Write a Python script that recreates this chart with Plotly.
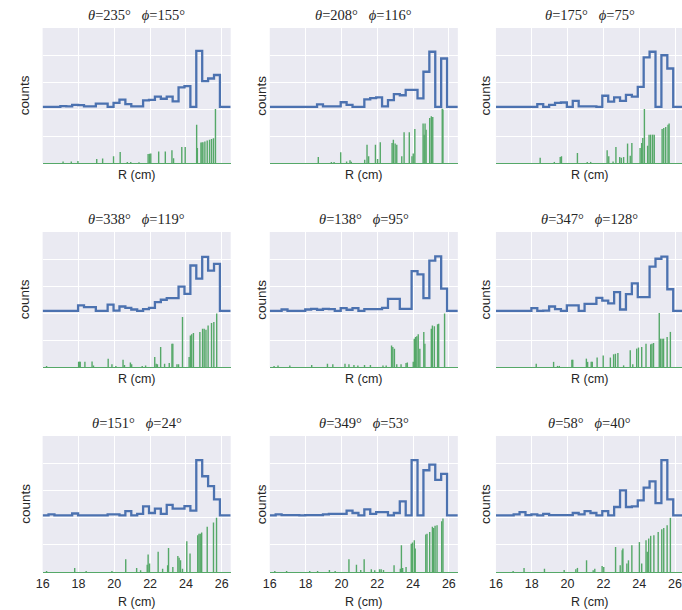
import numpy as np
import plotly.graph_objects as go

W, H = 682, 610

# ---------------- data ----------------
thetas = [235, 208, 175, 338, 138, 347, 151, 349, 58]
phis = [155, 116, 75, 119, 95, 128, 24, 53, 40]

bin_lo, bin_hi, n_bins = 16.0, 25.9, 30
x_tick_vals = [16, 18, 20, 22, 24, 26]
x_tick_text = ["16", "18", "20", "22", "24", "26"]

hist1 = [0, 0, 0, 0.03, 0.02, 0.07, 0.06, 0.02, 0.02, 0.12, 0.12, 0, 0.15, 0.27, 0.1, 0.02, 0.02, 0.24, 0.26, 0.38, 0.3, 0.38, 0.2, 0.72, 0.77, 0, 2.07, 0.95, 1.05, 1.18]
hist2 = [0, 0, 0, 0, 0, 0, 0, 0, 0.09, 0.02, 0.02, 0.02, 0.17, 0.07, 0, 0, 0.28, 0.32, 0.35, 0.02, 0.25, 0.47, 0.43, 0.63, 0.63, 0.31, 1.30, 2.04, 0, 1.79]
hist3 = [0, 0, 0, 0, 0, 0, 0, 0.1, 0, 0.07, 0.15, 0.16, 0, 0.22, 0.02, 0.02, 0.02, 0, 0.41, 0.19, 0.35, 0.22, 0.44, 0.38, 0.74, 1.83, 2.04, 0, 1.91, 1.42]
hist4 = [0, 0, 0, 0, 0, 0, 0.2, 0.14, 0.14, 0, 0, 0.23, 0.01, 0.16, 0.11, 0.05, 0, 0.06, 0.11, 0.32, 0.41, 0.47, 0.47, 0.9, 0.63, 1.68, 1.19, 2.0, 1.49, 1.74]
hist5 = [0, 0, 0.05, 0, 0, 0, 0.05, 0.07, 0.04, 0.07, 0.06, 0, 0.1, 0.04, 0.1, 0, 0.06, 0.06, 0.06, 0.11, 0.44, 0.44, 0.07, 0.07, 1.47, 1.35, 0.47, 1.86, 2.02, 0.82]
hist6 = [0, 0, 0, 0, 0, 0, 0.1, 0, 0.01, 0.16, 0.06, 0, 0.2, 0.2, 0, 0.26, 0.26, 0.48, 0.38, 0.28, 0.69, 0.05, 0.62, 1.02, 0.51, 0.51, 1.64, 1.93, 2.01, 0.8]
hist7 = [0, 0.04, 0, 0, 0, 0.07, 0, 0, 0, 0, 0, 0.04, 0.04, 0, 0.16, 0, 0.06, 0.33, 0.09, 0.25, 0.06, 0.39, 0.25, 0.25, 0.34, 0.18, 2.03, 1.44, 1.08, 0.59]
hist8 = [0, 0.04, 0.01, 0.01, 0.01, 0, 0.01, 0.01, 0.01, 0.04, 0.06, 0.06, 0.06, 0.18, 0.09, 0, 0.22, 0.06, 0.12, 0.12, 0, 0.09, 0.52, 0, 2.03, 0, 1.66, 1.87, 1.31, 1.53]
hist9 = [0, 0, 0, 0.04, 0.12, 0.01, 0.04, 0, 0.06, 0.01, 0.01, 0.01, 0.01, 0.09, 0.04, 0.16, 0.09, 0, 0.16, 0, 0.31, 0.92, 0.31, 0.33, 0.55, 1.02, 1.25, 0.45, 2.03, 0.59]

stem_r1 = [17.14, 17.6, 17.97, 19.02, 19.35, 19.96, 20.33, 20.73, 20.92, 21.38, 21.89, 21.97, 22.04, 22.48, 22.85, 23.22, 23.31, 23.77, 23.96, 24.6, 24.64, 24.84, 24.9, 24.95, 25.06, 25.19, 25.32, 25.43, 25.54, 25.65]
stem_h1 = [.06, .06, .07, .15, .17, .25, .41, .04, .04, .03, .33, .34, .35, .43, .43, .47, .18, .59, .59, 1.42, .56, .76, .76, .77, .8, .83, .86, .89, .92, 2.0]

stem_r2 = [18.71, 19.44, 19.59, 19.96, 20.29, 20.48, 20.55, 21.3, 21.43, 21.52, 21.9, 22.02, 22.17, 22.83, 22.9, 23.0, 23.09, 23.37, 23.5, 23.79, 23.94, 24.01, 24.1, 24.56, 24.62, 24.67, 24.73, 24.93, 25.02, 25.1, 25.63, 25.67]
stem_h2 = [.22, .04, .04, .40, .06, .1, .05, .12, .68, .25, .68, .15, .77, .74, .86, .72, .68, .25, 1.14, 1.14, .25, .35, 1.26, 1.46, 1.05, 1.46, 1.23, 1.67, 1.73, 1.70, 2.01, 1.98]

stem_r3 = [18.47, 19.26, 19.59, 19.66, 20.55, 21.1, 21.29, 22.21, 22.3, 22.54, 22.7, 22.91, 23.0, 23.13, 23.35, 23.5, 23.59, 24.05, 24.14, 24.2, 24.29, 24.47, 24.55, 24.64, 24.75, 24.84, 25.28, 25.37, 25.48, 25.61, 25.67]
stem_h3 = [.19, .04, .22, .25, .37, .04, .04, .47, .25, .06, .59, .22, .19, .22, .72, .27, .74, .56, .74, .93, 2.0, .64, 1.05, 1.05, 1.05, 1.05, 1.26, 1.3, 1.33, 1.42, 1.46]

stem_r4 = [16.22, 18.01, 18.06, 18.1, 18.36, 18.76, 18.84, 19.66, 19.87, 20.09, 20.49, 20.57, 20.9, 20.97, 21.56, 21.75, 22.26, 22.34, 22.41, 22.59, 22.81, 23.07, 23.22, 23.27, 23.5, 23.59, 23.81, 24.18, 24.25, 24.32, 24.42, 24.78, 24.93, 25.02, 25.12, 25.24, 25.43, 25.56, 25.72]
stem_h4 = [.04, .19, .19, .19, .19, .2, .06, .31, .1, .04, .27, .07, .17, .1, .04, .06, .37, .12, .1, .74, .12, .15, .86, .86, .1, .1, 1.85, .37, 1.17, 1.21, 1.26, 1.3, 1.42, 1.42, 1.38, 1.54, 1.63, 1.67, 1.98]

stem_r5 = [16.24, 16.46, 17.12, 18.34, 19.22, 19.52, 20.2, 20.42, 20.7, 20.92, 21.29, 21.62, 22.32, 22.5, 22.8, 22.87, 22.96, 23.09, 23.33, 23.61, 23.68, 24.01, 24.07, 24.14, 24.21, 24.29, 24.38, 24.6, 24.66, 25.02, 25.08, 25.19, 25.37, 25.43, 25.76]
stem_h5 = [.04, .06, .06, .07, .12, .1, .12, .1, .07, .06, .07, .07, .06, .06, .8, .74, .68, .1, .1, .15, .17, .19, 1.05, 1.11, 1.14, 1.21, .68, 1.3, .86, 1.42, 1.54, 1.51, 1.58, 1.6, 1.98]

stem_r6 = [18.25, 19.22, 19.44, 19.54, 20.24, 20.29, 21.05, 21.12, 21.32, 21.38, 21.65, 21.99, 22.39, 22.57, 22.67, 22.81, 23.13, 23.5, 23.64, 23.86, 23.96, 24.14, 24.38, 24.64, 24.71, 24.8, 25.12, 25.19, 25.28, 25.36, 25.56, 25.74]
stem_h6 = [.12, .19, .04, .04, .27, .27, .31, .19, .19, .19, .35, .43, .35, .47, .49, .52, .06, .62, .1, .68, .72, .74, .86, .84, .86, .89, 2.0, 1.05, 1.05, 1.05, 1.11, 1.3]

stem_r7 = [16.22, 17.79, 18.43, 19.87, 20.64, 21.25, 21.47, 21.84, 21.89, 21.97, 22.45, 22.7, 22.98, 23.03, 23.27, 23.55, 23.62, 23.7, 23.81, 24.05, 24.23, 24.66, 24.73, 24.8, 24.88, 25.19, 25.54, 25.71]
stem_h7 = [.04, .15, .04, .04, .47, .15, .06, .27, .64, .31, .74, .12, .25, .88, .18, .59, .52, .43, .12, 1.13, .68, 1.35, 1.41, 1.41, 1.45, 1.66, 1.82, 1.99]

stem_r8 = [16.28, 16.94, 18.23, 18.67, 19.33, 19.65, 20.42, 20.84, 21.08, 21.27, 21.67, 21.86, 22.13, 22.22, 22.35, 22.94, 23.29, 23.35, 23.42, 23.61, 23.9, 23.97, 24.07, 24.12, 24.71, 24.78, 24.93, 25.08, 25.15, 25.23, 25.34, 25.6, 25.67]
stem_h8 = [.04, .04, .04, .04, .07, .04, .47, .27, .07, .47, .1, .06, .1, .1, .07, .25, .12, .98, .15, .18, 1.04, 1.08, 1.17, .86, 1.38, 1.41, 1.47, 1.66, 1.62, 1.7, 1.72, 1.87, 1.97]

stem_r9 = [16.96, 17.57, 18.71, 19.81, 20.46, 20.55, 21.06, 21.43, 21.52, 21.93, 22.02, 22.68, 22.94, 23.05, 23.09, 23.31, 23.4, 23.59, 24.01, 24.14, 24.38, 24.45, 24.53, 24.64, 24.82, 25.06, 25.26, 25.37, 25.56, 25.74]
stem_h9 = [.04, .15, .12, .07, .1, .15, .43, .06, .12, .22, .18, .92, .25, .8, .86, .31, .43, .98, 1.1, .31, 1.17, .74, 1.23, 1.33, 1.35, 1.47, 1.57, 1.62, 1.72, 1.99]

hists = [hist1, hist2, hist3, hist4, hist5, hist6, hist7, hist8, hist9]
stems_r = [stem_r1, stem_r2, stem_r3, stem_r4, stem_r5, stem_r6, stem_r7, stem_r8, stem_r9]
stems_h = [stem_h1, stem_h2, stem_h3, stem_h4, stem_h5, stem_h6, stem_h7, stem_h8, stem_h9]

# ---------------- style / layout ----------------
BASE = 2.08          # vertical offset of the histogram
X_MAX = 26.5
Y_RANGE = [0, 5]
BLUE = "#4C72B0"
GREEN = "#55A868"
BG = "#EAEAF2"
SANS = "Liberation Sans, Arial, sans-serif"
SERIF = "Liberation Serif, Times New Roman, serif"
TXT = "#262626"

col_px = [(36, 226), (265.5, 455.5), (494, 684)]       # plot left/right in pixels
row_px = [(28, 163), (232, 367), (436, 572)]           # plot top/bottom in pixels
counts_x = [18, 257, 483]

edges = np.linspace(bin_lo, bin_hi, n_bins + 1)

fig = go.Figure()
layout = dict(
    width=W, height=H, margin=dict(l=0, r=0, t=0, b=0),
    paper_bgcolor="white", plot_bgcolor=BG, showlegend=False,
)
annotations = []

def px_x(x):
    return x / W

def px_y(y):
    return 1 - y / H

for k in range(9):
    r, c = divmod(k, 3)
    idx = "" if k == 0 else str(k + 1)
    xa, ya = "x" + idx, "y" + idx
    x0, x1 = col_px[c]
    y0, y1 = row_px[r]
    dom_x1 = min(x1, W)
    xr_max = 16 + (X_MAX - 16) * (dom_x1 - x0) / (x1 - x0)

    layout["xaxis" + idx] = dict(
        domain=[px_x(x0), px_x(dom_x1)], anchor=ya, range=[16, xr_max],
        tickmode="array", tickvals=x_tick_vals, ticktext=x_tick_text,
        showticklabels=(r == 2), ticks="", ticklabeloverflow="allow",
        gridcolor="white", gridwidth=1, zeroline=False,
        showline=True, linecolor=GREEN, linewidth=1, mirror=False,
        tickfont=dict(family=SANS, size=12.5, color=TXT),
    )
    layout["yaxis" + idx] = dict(
        domain=[px_y(y1), px_y(y0)], anchor=xa, range=Y_RANGE, dtick=1,
        showticklabels=False, ticks="", gridcolor="white", gridwidth=1,
        zeroline=False, showline=False,
    )

    # green stems
    sx, sy = [], []
    for rv, hv in zip(stems_r[k], stems_h[k]):
        sx += [rv, rv, None]
        sy += [0, hv, None]
    fig.add_trace(go.Scatter(x=sx, y=sy, mode="lines", xaxis=xa, yaxis=ya,
                             line=dict(color=GREEN, width=1.4), hoverinfo="skip"))

    # blue step histogram
    hx = list(edges) + [X_MAX]
    hy = [BASE + v for v in hists[k]] + [BASE, BASE]
    fig.add_trace(go.Scatter(x=hx, y=hy, mode="lines", line_shape="hv",
                             xaxis=xa, yaxis=ya,
                             line=dict(color=BLUE, width=2.3), hoverinfo="skip"))

    xc = (x0 + x1) / 2
    annotations.append(dict(
        x=px_x(xc), y=px_y(y0 - 13), xref="paper", yref="paper",
        text=f"<i>θ</i>={thetas[k]}°   <i>ϕ</i>={phis[k]}°",
        showarrow=False, xanchor="center", yanchor="middle",
        font=dict(family=SERIF, size=14.5, color=TXT),
    ))
    annotations.append(dict(
        x=px_x(counts_x[c]), y=px_y((y0 + y1) / 2), xref="paper", yref="paper",
        text="counts", textangle=-90, showarrow=False,
        xanchor="center", yanchor="middle",
        font=dict(family=SANS, size=13.5, color=TXT),
    ))
    lab_y = y1 + 12 if r < 2 else y1 + 30
    annotations.append(dict(
        x=px_x(xc), y=px_y(lab_y), xref="paper", yref="paper",
        text="R (cm)", showarrow=False, xanchor="center", yanchor="middle",
        font=dict(family=SANS, size=12.5, color=TXT),
    ))

layout["annotations"] = annotations
fig.update_layout(**layout)
fig.write_html("out.html")
